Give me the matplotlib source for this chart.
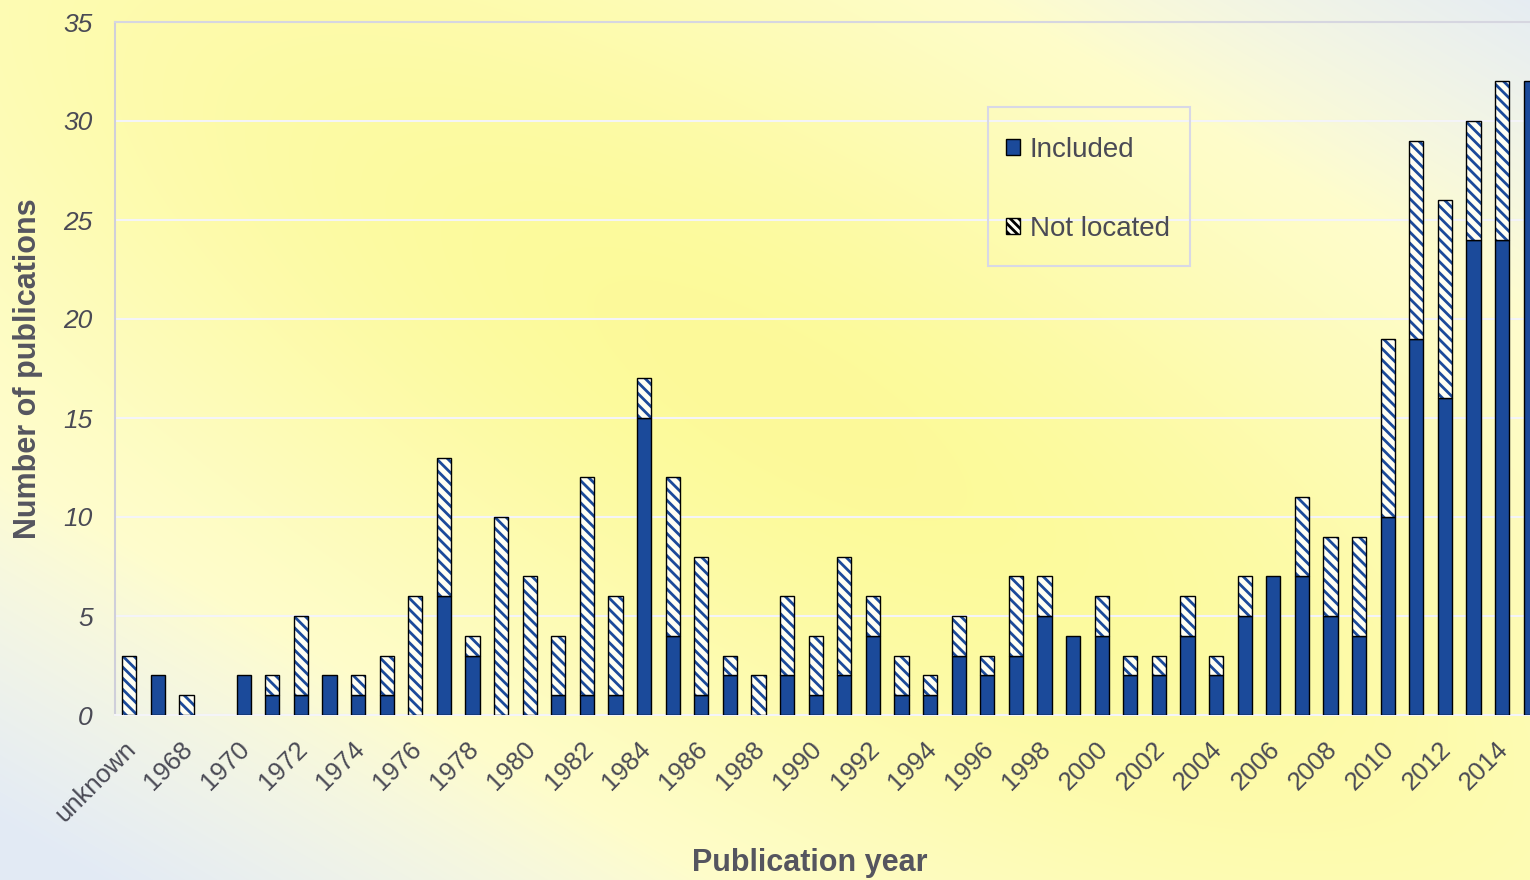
import numpy as np
import matplotlib
matplotlib.use("Agg")
import matplotlib.pyplot as plt
from matplotlib.patches import Patch, Rectangle
from matplotlib.transforms import ScaledTranslation

plt.rcParams['font.family'] = ['Liberation Sans', 'DejaVu Sans']
plt.rcParams['hatch.linewidth'] = 2.0

# data
categories = ['unknown'] + [str(y) for y in range(1967, 2016)]
included = [0, 2, 0, 0, 2, 1, 1, 2, 1, 1, 0, 6, 3, 0, 0, 1, 1, 1, 15, 4,
            1, 2, 0, 2, 1, 2, 4, 1, 1, 3, 2, 3, 5, 4, 4, 2, 2, 4, 2, 5,
            7, 7, 5, 4, 10, 19, 16, 24, 24, 32]
not_located = [3, 0, 1, 0, 0, 1, 4, 0, 1, 2, 6, 7, 1, 10, 7, 3, 11, 5, 2, 8,
               7, 1, 2, 4, 3, 6, 2, 2, 1, 2, 1, 4, 2, 0, 2, 1, 1, 2, 1, 2,
               0, 4, 4, 5, 9, 10, 10, 6, 8, 0]
yticks = [0, 5, 10, 15, 20, 25, 30, 35]

navy = '#1B4A9A'
txt = '#4A4A55'

fig = plt.figure(figsize=(15.3, 8.8), dpi=100)

# gradient background: yellow glow in the middle, pale blue corners
H, W = 880, 1530
yy, xx = np.mgrid[0:H, 0:W]
u = (xx - 780) * 0.867 + (yy - 400) * 0.498
v = -(xx - 780) * 0.498 + (yy - 400) * 0.867
t = np.exp(-(v / 420.0) ** 2 - (u / 1300.0) ** 2)[..., None]
s = np.clip((np.abs(v) - 450) / 300.0, 0, 1)[..., None]
yellow = np.array([0.99, 0.98, 0.60])
cream = np.array([1.0, 0.995, 0.88])
pale_blue = np.array([0.89, 0.92, 0.96])
img = cream * (1 - t) + yellow * t
img = img * (1 - s) + pale_blue * s
bg = fig.add_axes([0, 0, 1, 1], zorder=-1)
bg.imshow(img, aspect='auto')
bg.axis('off')

ax = fig.add_axes([115 / 1530, 165 / 880, 1430 / 1530, 693 / 880])
ax.set_facecolor('none')

x = np.arange(len(categories))
inc = np.array(included)
nl = np.array(not_located)
w = 0.5

mi = inc > 0
ax.bar(x[mi], inc[mi], w, color=navy, edgecolor='black', linewidth=1.0, zorder=3)
m = nl > 0
ax.bar(x[m], nl[m], w, bottom=inc[m], color='#FFFFF4', edgecolor=navy,
       linewidth=0, hatch='\\\\\\', zorder=3)
ax.bar(x[m], nl[m], w, bottom=inc[m], fill=False, edgecolor='black',
       linewidth=1.0, zorder=4)

ax.set_xlim(-0.5, 49.5)
ax.set_ylim(0, 35)
ax.set_yticks(yticks)
ax.set_yticklabels([str(v) for v in yticks], fontstyle='italic', fontsize=19, color=txt)
ax.set_xticks(x[::2])
ax.set_xticklabels(categories[::2], rotation=45, ha='right', va='top',
                   rotation_mode='anchor', fontsize=18.5, color=txt)
ax.tick_params(axis='y', length=0, pad=16)
ax.tick_params(axis='x', length=0, pad=16)
shift = ScaledTranslation(-6 / 100, 0, fig.dpi_scale_trans)
for lab in ax.get_xticklabels():
    lab.set_transform(lab.get_transform() + shift)

ax.yaxis.grid(True, color='#F4F4F8', linewidth=1.5, zorder=0)
ax.set_axisbelow(True)
ax.spines['right'].set_visible(False)
ax.spines['left'].set_color('#CFCFDA')
ax.spines['top'].set_color('#D6D6E0')
ax.spines['bottom'].set_color('#F4F4F8')
for side in ['left', 'top', 'bottom']:
    ax.spines[side].set_linewidth(1.5)

ax.set_ylabel('Number of publications', fontsize=22, fontweight='bold', color='#55555F')
ax.yaxis.set_label_coords(-0.05, 0.5)
ax.set_xlabel('Publication year', fontsize=22, fontweight='bold', color='#55555F')
ax.xaxis.set_label_coords(0.486, -0.192)

# legend without its own frame, box drawn separately to match the roomy layout
handles = [Patch(facecolor=navy, edgecolor='black', label='Included'),
           Patch(facecolor='#FFFFF4', edgecolor='black', hatch='\\\\\\\\', label='Not located')]
leg = ax.legend(handles=handles, loc='upper left', bbox_to_anchor=(0.6105, 0.860),
                fontsize=20, frameon=False, labelspacing=1.9,
                handlelength=0.5, handleheight=0.5, handletextpad=0.35,
                borderpad=0.65, borderaxespad=0)
for tx in leg.get_texts():
    tx.set_color(txt)
ax.add_patch(Rectangle((0.6105, 0.648), 0.1412, 0.229, transform=ax.transAxes,
                       fill=False, edgecolor='#D8D8E6', linewidth=1.5, zorder=5))

fig.savefig('out.png', dpi=100)
